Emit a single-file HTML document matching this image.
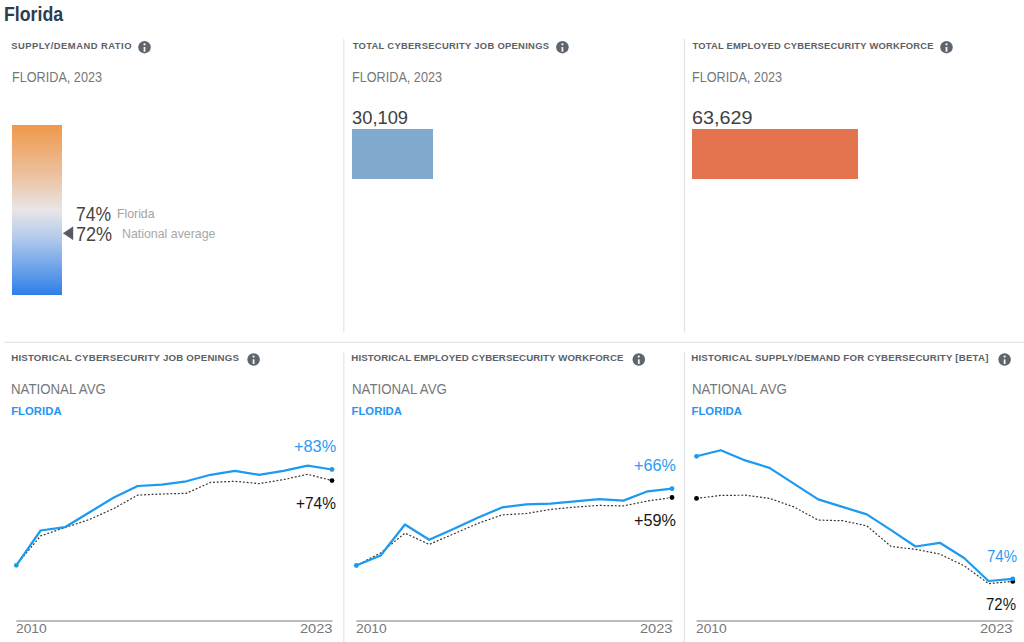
<!DOCTYPE html>
<html><head><meta charset="utf-8"><title>Florida</title>
<style>
html,body{margin:0;padding:0;background:#fff;}
body{width:1024px;height:642px;overflow:hidden;position:relative;font-family:"Liberation Sans", Arial, sans-serif;}
.t{position:absolute;white-space:nowrap;line-height:1;transform-origin:0 0;}
.ic{position:absolute;}
.vl{position:absolute;width:1px;background:#e3e7ea;}
.hl{position:absolute;height:1px;background:#e3e7ea;}
.box{position:absolute;}
svg.ch{position:absolute;left:0;top:0;}
</style></head><body>
<div class="box" style="left:11.9px;top:124.9px;width:50.5px;height:170.2px;background:linear-gradient(to bottom,#ef984a 0%,#ecc2a0 30%,#e8e6e7 50%,#b3cbeb 66%,#2e7fe9 100%)"></div>
<div class="box" style="left:352px;top:128.7px;width:80.6px;height:50.6px;background:#7faacd"></div>
<div class="box" style="left:692.3px;top:128.7px;width:166.2px;height:50.6px;background:#e3744f"></div>
<svg class="ch" width="1024" height="642" viewBox="0 0 1024 642"><line x1="343.8" y1="39" x2="343.8" y2="332.8" stroke="#e2e6ea" stroke-width="1.3"/><line x1="343.8" y1="352.2" x2="343.8" y2="642" stroke="#e2e6ea" stroke-width="1.3"/><line x1="684.4" y1="39" x2="684.4" y2="332.8" stroke="#e2e6ea" stroke-width="1.3"/><line x1="684.4" y1="352.2" x2="684.4" y2="642" stroke="#e2e6ea" stroke-width="1.3"/><line x1="4" y1="342.3" x2="1024" y2="342.3" stroke="#e2e6ea" stroke-width="1.3"/><circle cx="144.5" cy="47.2" r="6.25" fill="#5e656d"/><circle cx="144.5" cy="44.30" r="1.15" fill="#f4f5f6"/><rect x="143.60" y="47.00" width="1.8" height="4.8" rx="0.4" fill="#f4f5f6"/><circle cx="562.4" cy="47.2" r="6.25" fill="#5e656d"/><circle cx="562.4" cy="44.30" r="1.15" fill="#f4f5f6"/><rect x="561.50" y="47.00" width="1.8" height="4.8" rx="0.4" fill="#f4f5f6"/><circle cx="946.5" cy="47.2" r="6.25" fill="#5e656d"/><circle cx="946.5" cy="44.30" r="1.15" fill="#f4f5f6"/><rect x="945.60" y="47.00" width="1.8" height="4.8" rx="0.4" fill="#f4f5f6"/><circle cx="253.6" cy="359.5" r="6.25" fill="#5e656d"/><circle cx="253.6" cy="356.60" r="1.15" fill="#f4f5f6"/><rect x="252.70" y="359.30" width="1.8" height="4.8" rx="0.4" fill="#f4f5f6"/><circle cx="638.8" cy="359.5" r="6.25" fill="#5e656d"/><circle cx="638.8" cy="356.60" r="1.15" fill="#f4f5f6"/><rect x="637.90" y="359.30" width="1.8" height="4.8" rx="0.4" fill="#f4f5f6"/><circle cx="1004.6" cy="359.5" r="6.25" fill="#5e656d"/><circle cx="1004.6" cy="356.60" r="1.15" fill="#f4f5f6"/><rect x="1003.70" y="359.30" width="1.8" height="4.8" rx="0.4" fill="#f4f5f6"/><polygon points="63.2,233.2 73,226.7 73,239.8" fill="#565b61" stroke="#565b61" stroke-width="0.4" stroke-linejoin="round"/><line x1="16.3" y1="621" x2="332.5" y2="621" stroke="#bdbdbd" stroke-width="1.8"/><polyline points="16.3,565 40.6,535.9 64.9,527.6 89.2,519.6 113.4,508.7 137.7,495.1 162.0,494 186.3,493.3 210.6,482.4 234.9,481.3 259.1,483.6 283.4,479.6 307.7,474.3 332.0,480.6" fill="none" stroke="#333" stroke-width="1.2" stroke-dasharray="1.9 1.85"/><polyline points="16.3,565.3 40.6,530.5 64.9,527.2 89.2,512.5 113.4,497.8 137.7,486 162.0,484.7 186.3,481.3 210.6,474.8 234.9,470.8 259.1,474.8 283.4,470.8 307.7,465.7 332.0,469.5" fill="none" stroke="#1b9af0" stroke-width="2.2" stroke-linejoin="round"/><circle cx="332.0" cy="480.6" r="2.4" fill="#000"/><circle cx="16.3" cy="565.3" r="2.4" fill="#1b9af0"/><circle cx="332.0" cy="469.5" r="2.4" fill="#1b9af0"/><line x1="356.3" y1="621" x2="672.5" y2="621" stroke="#bdbdbd" stroke-width="1.8"/><polyline points="356.3,565.5 380.6,553 404.9,533.1 429.2,544.4 453.4,534 477.7,523.5 502.0,514.9 526.3,513.5 550.6,509.4 574.9,507.1 599.1,505.4 623.4,505.9 647.7,501 672.0,497.5" fill="none" stroke="#333" stroke-width="1.2" stroke-dasharray="1.9 1.85"/><polyline points="356.3,565.5 380.6,555.5 404.9,524.5 429.2,539.8 453.4,529 477.7,517.8 502.0,507.4 526.3,504.4 550.6,503.6 574.9,501.3 599.1,499.2 623.4,500.6 647.7,491.3 672.0,488.7" fill="none" stroke="#1b9af0" stroke-width="2.2" stroke-linejoin="round"/><circle cx="672.0" cy="497.5" r="2.4" fill="#000"/><circle cx="356.3" cy="565.5" r="2.4" fill="#1b9af0"/><circle cx="672.0" cy="488.7" r="2.4" fill="#1b9af0"/><line x1="696.5" y1="621" x2="1013.3" y2="621" stroke="#bdbdbd" stroke-width="1.8"/><polyline points="696.5,498.4 720.8,495.4 745.2,495.2 769.5,498.4 793.8,506.9 818.2,520.1 842.5,520.7 866.8,525.8 891.1,546.5 915.5,549.3 939.8,554.1 964.1,565.7 988.5,583.6 1012.8,581.4" fill="none" stroke="#333" stroke-width="1.2" stroke-dasharray="1.9 1.85"/><polyline points="696.5,456.3 720.8,450.2 745.2,460.4 769.5,467.9 793.8,483.7 818.2,499.4 842.5,506.9 866.8,514.4 891.1,530.1 915.5,546.5 939.8,542.8 964.1,558 988.5,581 1012.8,578.8" fill="none" stroke="#1b9af0" stroke-width="2.2" stroke-linejoin="round"/><circle cx="696.5" cy="498.4" r="2.4" fill="#000"/><circle cx="1012.8" cy="581.4" r="2.4" fill="#000"/><circle cx="696.5" cy="456.3" r="2.4" fill="#1b9af0"/><circle cx="1012.8" cy="578.8" r="2.4" fill="#1b9af0"/></svg>
<span class="t" style="top:3.57px;font-size:20px;font-weight:700;color:#2d3d4e;left:4.21px;transform:scaleX(0.8864);">Florida</span>
<span class="t" style="top:41.24px;font-size:9.4px;font-weight:700;color:#5c6167;left:11.20px;letter-spacing:0.489px;">SUPPLY/DEMAND RATIO</span>
<span class="t" style="top:41.24px;font-size:9.4px;font-weight:700;color:#5c6167;left:352.70px;letter-spacing:0.306px;">TOTAL CYBERSECURITY JOB OPENINGS</span>
<span class="t" style="top:41.24px;font-size:9.4px;font-weight:700;color:#5c6167;left:692.50px;letter-spacing:0.214px;">TOTAL EMPLOYED CYBERSECURITY WORKFORCE</span>
<span class="t" style="top:69.77px;font-size:14.8px;font-weight:400;color:#74787c;left:11.55px;transform:scaleX(0.8548);">FLORIDA, 2023</span>
<span class="t" style="top:69.77px;font-size:14.8px;font-weight:400;color:#74787c;left:352.05px;transform:scaleX(0.8548);">FLORIDA, 2023</span>
<span class="t" style="top:69.77px;font-size:14.8px;font-weight:400;color:#74787c;left:692.05px;transform:scaleX(0.8548);">FLORIDA, 2023</span>
<span class="t" style="top:204.07px;font-size:20px;font-weight:400;color:#454545;left:76.02px;transform:scaleX(0.8763);">74%</span>
<span class="t" style="top:207.40px;font-size:13px;font-weight:400;color:#a3a3a3;left:117.06px;transform:scaleX(0.9436);">Florida</span>
<span class="t" style="top:223.67px;font-size:20px;font-weight:400;color:#454545;left:76.00px;transform:scaleX(0.9026);">72%</span>
<span class="t" style="top:227.30px;font-size:13px;font-weight:400;color:#a8a8a8;left:121.55px;transform:scaleX(0.9505);">National average</span>
<span class="t" style="top:108.12px;font-size:19px;font-weight:400;color:#404040;left:351.94px;transform:scaleX(0.9643);">30,109</span>
<span class="t" style="top:108.12px;font-size:19px;font-weight:400;color:#404040;left:691.86px;transform:scaleX(1.0411);">63,629</span>
<span class="t" style="top:353.09px;font-size:9.7px;font-weight:700;color:#5c6167;left:11.20px;letter-spacing:0.194px;">HISTORICAL CYBERSECURITY JOB OPENINGS</span>
<span class="t" style="top:353.09px;font-size:9.7px;font-weight:700;color:#5c6167;left:351.30px;letter-spacing:0.086px;">HISTORICAL EMPLOYED CYBERSECURITY WORKFORCE</span>
<span class="t" style="top:353.09px;font-size:9.7px;font-weight:700;color:#5c6167;left:691.30px;letter-spacing:0.190px;">HISTORICAL SUPPLY/DEMAND FOR CYBERSECURITY [BETA]</span>
<span class="t" style="top:382.05px;font-size:14px;font-weight:400;color:#74787c;left:11.25px;transform:scaleX(0.9469);">NATIONAL AVG</span>
<span class="t" style="top:405.73px;font-size:11.3px;font-weight:700;color:#2196f3;left:11.20px;letter-spacing:0.033px;">FLORIDA</span>
<span class="t" style="top:382.05px;font-size:14px;font-weight:400;color:#74787c;left:351.55px;transform:scaleX(0.9469);">NATIONAL AVG</span>
<span class="t" style="top:405.73px;font-size:11.3px;font-weight:700;color:#2196f3;left:351.50px;letter-spacing:0.033px;">FLORIDA</span>
<span class="t" style="top:382.05px;font-size:14px;font-weight:400;color:#74787c;left:691.55px;transform:scaleX(0.9469);">NATIONAL AVG</span>
<span class="t" style="top:405.73px;font-size:11.3px;font-weight:700;color:#2196f3;left:691.50px;letter-spacing:0.033px;">FLORIDA</span>
<span class="t" style="top:621.66px;font-size:13.4px;font-weight:400;color:#74787c;left:16.07px;transform:scaleX(1.0286);">2010</span>
<span class="t" style="top:621.66px;font-size:13.4px;font-weight:400;color:#74787c;left:299.71px;transform:scaleX(1.0893);">2023</span>
<span class="t" style="top:621.66px;font-size:13.4px;font-weight:400;color:#74787c;left:356.07px;transform:scaleX(1.0286);">2010</span>
<span class="t" style="top:621.66px;font-size:13.4px;font-weight:400;color:#74787c;left:639.71px;transform:scaleX(1.0893);">2023</span>
<span class="t" style="top:621.66px;font-size:13.4px;font-weight:400;color:#74787c;left:696.07px;transform:scaleX(1.0286);">2010</span>
<span class="t" style="top:621.66px;font-size:13.4px;font-weight:400;color:#74787c;left:979.71px;transform:scaleX(1.0893);">2023</span>
<span class="t" style="top:438.56px;font-size:16px;font-weight:400;color:#2a9cf2;left:294.08px;transform:scaleX(1.0200);">+83%</span>
<span class="t" style="top:495.66px;font-size:16px;font-weight:400;color:#151515;left:296.14px;transform:scaleX(0.9650);">+74%</span>
<span class="t" style="top:457.86px;font-size:16px;font-weight:400;color:#2a9cf2;left:634.29px;transform:scaleX(1.0125);">+66%</span>
<span class="t" style="top:512.96px;font-size:16px;font-weight:400;color:#151515;left:634.29px;transform:scaleX(1.0125);">+59%</span>
<span class="t" style="top:548.86px;font-size:16px;font-weight:400;color:#2a9cf2;left:986.86px;transform:scaleX(0.9387);">74%</span>
<span class="t" style="top:596.96px;font-size:16px;font-weight:400;color:#151515;left:986.36px;transform:scaleX(0.9355);">72%</span>
</body></html>
